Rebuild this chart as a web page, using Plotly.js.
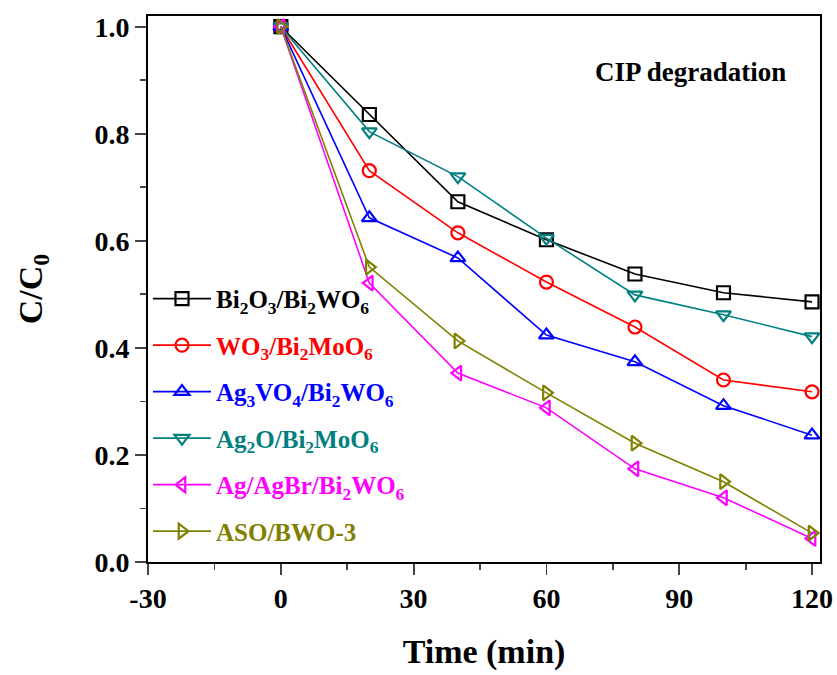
<!DOCTYPE html>
<html>
<head>
<meta charset="utf-8">
<script src="https://cdn.plot.ly/plotly-3.0.1.min.js"></script>
<style>html,body{margin:0;padding:0;background:#fff;}#chart{width:837px;height:675px;}</style>
</head>
<body>
<div id="chart"></div>
<script>
const time = [0, 20, 40, 60, 80, 100, 120];
const bi2o3 = [1.0, 0.836, 0.673, 0.602, 0.538, 0.503, 0.486];
const wo3 = [1.0, 0.731, 0.615, 0.523, 0.439, 0.340, 0.318];
const ag3vo4 = [1.0, 0.643, 0.568, 0.424, 0.374, 0.292, 0.237];
const ag2o = [1.0, 0.804, 0.720, 0.605, 0.499, 0.462, 0.421];
const agagbr = [1.0, 0.521, 0.353, 0.288, 0.174, 0.120, 0.044];
const aso = [1.0, 0.551, 0.413, 0.316, 0.222, 0.150, 0.054];
const seriesNames = [
  "Bi<sub>2</sub>O<sub>3</sub>/Bi<sub>2</sub>WO<sub>6</sub>",
  "WO<sub>3</sub>/Bi<sub>2</sub>MoO<sub>6</sub>",
  "Ag<sub>3</sub>VO<sub>4</sub>/Bi<sub>2</sub>WO<sub>6</sub>",
  "Ag<sub>2</sub>O/Bi<sub>2</sub>MoO<sub>6</sub>",
  "Ag/AgBr/Bi<sub>2</sub>WO<sub>6</sub>",
  "ASO/BWO-3"
];
const xTickVals = [-30, 0, 30, 60, 90, 120];
const xTickText = ["-30", "0", "30", "60", "90", "120"];
const yTickVals = [0, 0.2, 0.4, 0.6, 0.8, 1.0];
const yTickText = ["0.0", "0.2", "0.4", "0.6", "0.8", "1.0"];

const values = [bi2o3, wo3, ag3vo4, ag2o, agagbr, aso];
const colors = ["#000000", "#ff0000", "#0000ff", "#008080", "#ff00ff", "#808000"];
const symbols = ["square-open", "circle-open", "triangle-up-open", "triangle-down-open", "triangle-left-open", "triangle-right-open"];

const traces = values.map((v, i) => ({
  x: time, y: v, type: "scatter", mode: "lines+markers",
  name: '<span style="color:' + colors[i] + '">' + seriesNames[i] + '</span>',
  legendgroup: "g" + i,
  line: {color: colors[i], width: 1.6},
  marker: {symbol: symbols[i], size: 13, color: colors[i], line: {color: colors[i], width: 2.2}}
}));

const fontFam = "Liberation Serif, Times New Roman, serif";
const layout = {
  width: 837, height: 675,
  margin: {l: 148, r: 17, t: 16, b: 113},
  paper_bgcolor: "#fff", plot_bgcolor: "#fff",
  font: {family: fontFam, weight: "bold", color: "#000"},
  showlegend: true,
  legend: {x: 0.0, y: 0.524, xanchor: "left", yanchor: "top", bgcolor: "rgba(0,0,0,0)",
    font: {family: fontFam, size: 25, weight: "bold"}, tracegroupgap: 11, itemwidth: 58},
  xaxis: {range: [-30, 121.8], tickvals: xTickVals, ticktext: xTickText, ticks: "outside", ticklen: 11, tickwidth: 1.8,
    showline: true, linewidth: 1.8, linecolor: "#000", mirror: true, showgrid: false, zeroline: false,
    minor: {dtick: 15, tick0: -30, ticks: "outside", ticklen: 6, tickwidth: 1.8, showgrid: false},
    tickfont: {family: fontFam, size: 28, weight: "bold"},
    title: {text: "Time (min)", font: {family: fontFam, size: 34, weight: "bold"}, standoff: 26}},
  yaxis: {range: [0, 1.02], tickvals: yTickVals, ticktext: yTickText, ticks: "outside", ticklen: 11, tickwidth: 1.8,
    showline: true, linewidth: 1.8, linecolor: "#000", mirror: true, showgrid: false, zeroline: false,
    minor: {dtick: 0.1, tick0: 0, ticks: "outside", ticklen: 6, tickwidth: 1.8, showgrid: false},
    tickfont: {family: fontFam, size: 28, weight: "bold"},
    title: {text: "C/C<sub>0</sub>", font: {family: fontFam, size: 34, weight: "bold"}, standoff: 42}},
  annotations: [{xref: "paper", yref: "paper", x: 0.952, y: 0.897, xanchor: "right", yanchor: "middle",
    text: "CIP degradation", showarrow: false, font: {family: fontFam, size: 27, weight: "bold", color: "#000"}}]
};
Plotly.newPlot("chart", traces, layout, {displayModeBar: false, staticPlot: true});
</script>
</body>
</html>
